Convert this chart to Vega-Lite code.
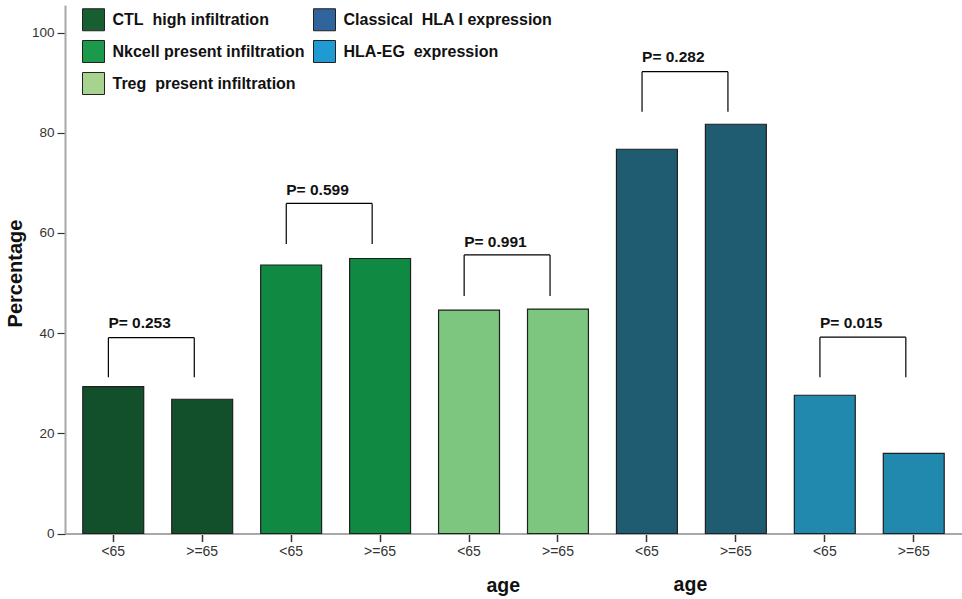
{
  "$schema": "https://vega.github.io/schema/vega-lite/v6.json",
  "width": 897,
  "height": 528.5,
  "autosize": {"type": "none"},
  "padding": {"left": 65, "top": 5, "right": 0, "bottom": 65.5},
  "background": "white",
  "config": {
    "view": {"stroke": null},
    "font": "Liberation Sans",
    "axis": {"labelFont": "Liberation Sans", "titleFont": "Liberation Sans"},
    "legend": {"labelFont": "Liberation Sans"},
    "text": {"font": "Liberation Sans"}
  },
  "datasets": {
    "bars": [
      {"bar": "CTL|<65", "group": "CTL\u00a0 high infiltration", "value": 29.3},
      {"bar": "CTL|>=65", "group": "CTL\u00a0 high infiltration", "value": 26.8},
      {"bar": "NK|<65", "group": "Nkcell present infiltration", "value": 53.6},
      {"bar": "NK|>=65", "group": "Nkcell present infiltration", "value": 54.9},
      {"bar": "Treg|<65", "group": "Treg\u00a0 present infiltration", "value": 44.6},
      {"bar": "Treg|>=65", "group": "Treg\u00a0 present infiltration", "value": 44.8},
      {"bar": "HLAI|<65", "group": "Classical\u00a0 HLA I expression", "value": 76.7},
      {"bar": "HLAI|>=65", "group": "Classical\u00a0 HLA I expression", "value": 81.7},
      {"bar": "HLAEG|<65", "group": "HLA-EG\u00a0 expression", "value": 27.6},
      {"bar": "HLAEG|>=65", "group": "HLA-EG\u00a0 expression", "value": 16.0}
    ],
    "brackets": [
      {"a": "CTL|<65", "b": "CTL|>=65", "top": 39.1, "bottom": 31.2, "ly": 42.1, "p": "P= 0.253"},
      {"a": "NK|<65", "b": "NK|>=65", "top": 65.9, "bottom": 57.8, "ly": 68.6, "p": "P= 0.599"},
      {"a": "Treg|<65", "b": "Treg|>=65", "top": 55.6, "bottom": 47.4, "ly": 58.2, "p": "P= 0.991"},
      {"a": "HLAI|<65", "b": "HLAI|>=65", "top": 92.2, "bottom": 84.2, "ly": 95.2, "p": "P= 0.282"},
      {"a": "HLAEG|<65", "b": "HLAEG|>=65", "top": 39.2, "bottom": 31.2, "ly": 42.1, "p": "P= 0.015"}
    ],
    "agelabel": [
      {"bar": "HLAI|<65", "text": "age", "zero": 0}
    ]
  },
  "layer": [
    {
      "data": {"name": "bars"},
      "mark": {"type": "bar", "stroke": "#1f1f1f", "strokeWidth": 1.2},
      "encoding": {
        "x": {
          "field": "bar", "type": "nominal",
          "scale": {
            "domain": ["CTL|<65", "CTL|>=65", "NK|<65", "NK|>=65", "Treg|<65", "Treg|>=65", "HLAI|<65", "HLAI|>=65", "HLAEG|<65", "HLAEG|>=65"],
            "paddingInner": 0.315, "paddingOuter": 0.2
          },
          "axis": {
            "title": "age", "titleX": 437.7, "titleY": 51.5, "titleAlign": "center", "titleBaseline": "middle",
            "titleFontSize": 19.5, "titleFontWeight": "bold", "titleColor": "#111",
            "labelExpr": "split(datum.value, '|')[1]", "labelFontSize": 14, "labelColor": "#333",
            "labelPadding": 3, "labelAngle": 0, "tickSize": 8, "tickColor": "#333", "tickWidth": 1.5,
            "domainColor": "#a8a8a8", "domainWidth": 2
          }
        },
        "y": {
          "field": "value", "type": "quantitative",
          "scale": {"domain": [0, 105.5], "nice": false},
          "axis": {
            "values": [0, 20, 40, 60, 80, 100], "title": "Percentage", "titleAngle": 270,
            "titleX": -50, "titleY": 268, "titleAlign": "center", "titleBaseline": "middle",
            "titleFontSize": 20, "titleFontWeight": "bold", "titleColor": "#111",
            "labelFontSize": 13.5, "labelColor": "#333", "labelPadding": 3,
            "tickSize": 8, "tickColor": "#333", "tickWidth": 1.2,
            "domainColor": "#a8a8a8", "domainWidth": 2, "grid": false
          }
        },
        "fill": {
          "field": "group", "type": "nominal",
          "scale": {
            "domain": ["CTL\u00a0 high infiltration", "Classical\u00a0 HLA I expression", "Nkcell present infiltration", "HLA-EG\u00a0 expression", "Treg\u00a0 present infiltration"],
            "range": ["#12502c", "#1f5c72", "#108a43", "#2289ae", "#7dc67f"]
          },
          "legend": null
        }
      }
    },
    {
      "data": {"name": "bars"},
      "mark": {"type": "bar", "opacity": 0},
      "encoding": {
        "x": {"field": "bar", "type": "nominal"},
        "y": {"field": "value", "type": "quantitative"},
        "color": {
          "field": "group", "type": "nominal",
          "scale": {
            "domain": ["CTL\u00a0 high infiltration", "Nkcell present infiltration", "Treg\u00a0 present infiltration", "Classical\u00a0 HLA I expression", "HLA-EG\u00a0 expression"],
            "range": ["#175e31", "#1a9a4a", "#a6d48f", "#2f659c", "#209ad2"]
          },
          "legend": {
            "title": null, "orient": "none", "legendX": 17, "legendY": 3, "columns": 2,
            "symbolType": "square", "symbolSize": 484, "symbolStrokeColor": "#222", "symbolStrokeWidth": 1,
            "symbolOpacity": 1, "labelFontSize": 16, "labelFontWeight": "bold", "labelColor": "#111",
            "labelOffset": 7.5, "rowPadding": 5, "columnPadding": 6, "padding": 0, "labelLimit": 400
          }
        }
      }
    },
    {
      "data": {"name": "brackets"},
      "mark": {"type": "rule", "color": "black", "strokeWidth": 1.2},
      "encoding": {
        "x": {"field": "a", "type": "nominal", "bandPosition": 0.42},
        "x2": {"field": "b", "bandPosition": 0.37},
        "y": {"field": "top", "type": "quantitative"}
      }
    },
    {
      "data": {"name": "brackets"},
      "mark": {"type": "rule", "color": "black", "strokeWidth": 1.2},
      "encoding": {
        "x": {"field": "a", "type": "nominal", "bandPosition": 0.42},
        "y": {"field": "top", "type": "quantitative"},
        "y2": {"field": "bottom"}
      }
    },
    {
      "data": {"name": "brackets"},
      "mark": {"type": "rule", "color": "black", "strokeWidth": 1.2},
      "encoding": {
        "x": {"field": "b", "type": "nominal", "bandPosition": 0.37},
        "y": {"field": "top", "type": "quantitative"},
        "y2": {"field": "bottom"}
      }
    },
    {
      "data": {"name": "brackets"},
      "mark": {"type": "text", "align": "left", "baseline": "middle", "fontSize": 15.5, "fontWeight": "bold", "color": "#111"},
      "encoding": {
        "x": {"field": "a", "type": "nominal", "bandPosition": 0.42},
        "y": {"field": "ly", "type": "quantitative"},
        "text": {"field": "p"}
      }
    },
    {
      "data": {"name": "agelabel"},
      "mark": {"type": "text", "align": "center", "baseline": "middle", "fontSize": 19.5, "fontWeight": "bold", "color": "#111", "dx": 43.5, "dy": 51.5},
      "encoding": {
        "x": {"field": "bar", "type": "nominal"},
        "y": {"field": "zero", "type": "quantitative"},
        "text": {"field": "text"}
      }
    }
  ]
}
